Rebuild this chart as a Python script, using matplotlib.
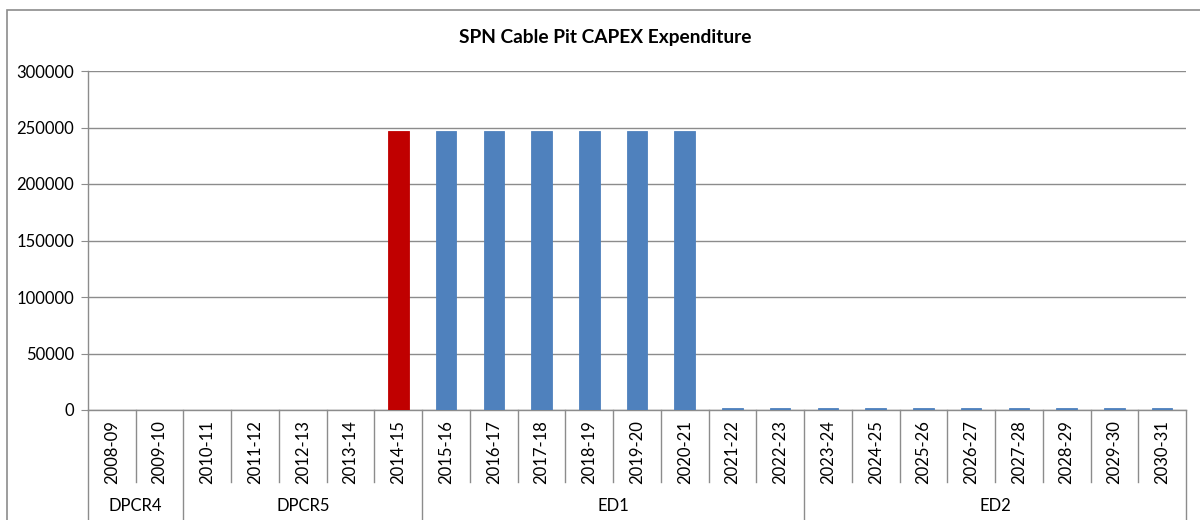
import matplotlib
matplotlib.use("Agg")
import matplotlib.pyplot as plt
import matplotlib.transforms as mtransforms
from matplotlib.patches import Rectangle

plt.rcParams['font.family'] = ['Lato', 'DejaVu Sans']

# Data
years = ["2008-09", "2009-10", "2010-11", "2011-12", "2012-13", "2013-14", "2014-15",
         "2015-16", "2016-17", "2017-18", "2018-19", "2019-20", "2020-21", "2021-22",
         "2022-23", "2023-24", "2024-25", "2025-26", "2026-27", "2027-28", "2028-29",
         "2029-30", "2030-31"]
capex = [0, 0, 0, 0, 0, 0, 246500,
         246500, 246500, 246500, 246500, 246500, 246500, 1800,
         1800, 1800, 1800, 1800, 1800, 1800, 1800,
         1800, 1800]
periods = ["DPCR4", "DPCR5", "ED1", "ED2"]
period_sizes = [2, 5, 8, 8]
highlight = "2014-15"

blue = "#4F81BD"
red = "#C00000"
grid_c = "#8C8C8C"
fs = 12

fig = plt.figure(figsize=(12, 5.2), dpi=100)
W, H = 1200, 520
ax = fig.add_axes([88 / W, 1 - 410 / H, (1186 - 88) / W, (410 - 71) / H])

colors = [red if y == highlight else blue for y in years]
xs = list(range(len(years)))
ax.bar(xs, capex, width=0.43, color=colors, edgecolor=colors, linewidth=0.6, zorder=3)

ax.set_xlim(-0.5, len(years) - 0.5)
ax.set_ylim(0, 300000)
ax.set_yticks(range(0, 300001, 50000))
ax.set_yticklabels([str(v) for v in range(0, 300001, 50000)], fontsize=fs)
ax.yaxis.grid(True, color=grid_c, linewidth=1.0, zorder=0)
ax.set_xticks([])
ax.tick_params(axis='y', length=5, color=grid_c, pad=5)
for s in ["top", "right"]:
    ax.spines[s].set_visible(False)
for s in ["left", "bottom"]:
    ax.spines[s].set_color(grid_c)
    ax.spines[s].set_linewidth(1.0)

fig.text(605 / W, 1 - 38 / H, "SPN Cable Pit CAPEX Expenditure", fontsize=13.8,
         fontweight="bold", ha="center", va="center")

trans = mtransforms.blended_transform_factory(ax.transData, ax.transAxes)
ph = 410 - 71
inner_bottom = -(482 - 410) / ph
outer_bottom = -(530 - 410) / ph

# category labels and separators
for i, y in enumerate(years):
    ax.text(i, -(452 - 410) / ph, y, rotation=90, ha="center", va="center",
            fontsize=fs, transform=trans)
boundaries = [-0.5]
for n in period_sizes:
    boundaries.append(boundaries[-1] + n)
for k in range(len(years) + 1):
    xb = k - 0.5
    yb = outer_bottom if xb in boundaries else inner_bottom
    ax.plot([xb, xb], [0, yb], color=grid_c, linewidth=1.0, transform=trans, clip_on=False)

# period labels
for p, a, b in zip(periods, boundaries[:-1], boundaries[1:]):
    ax.text((a + b) / 2, -(506 - 410) / ph, p, ha="center", va="center",
            fontsize=fs, transform=trans)

# chart border
fig.patches.append(Rectangle((7 / W, -0.2), 2, 1 - 10 / H + 0.2, transform=fig.transFigure,
                             fill=False, edgecolor=grid_c, linewidth=1.2))

fig.savefig("out.png", dpi=100)
